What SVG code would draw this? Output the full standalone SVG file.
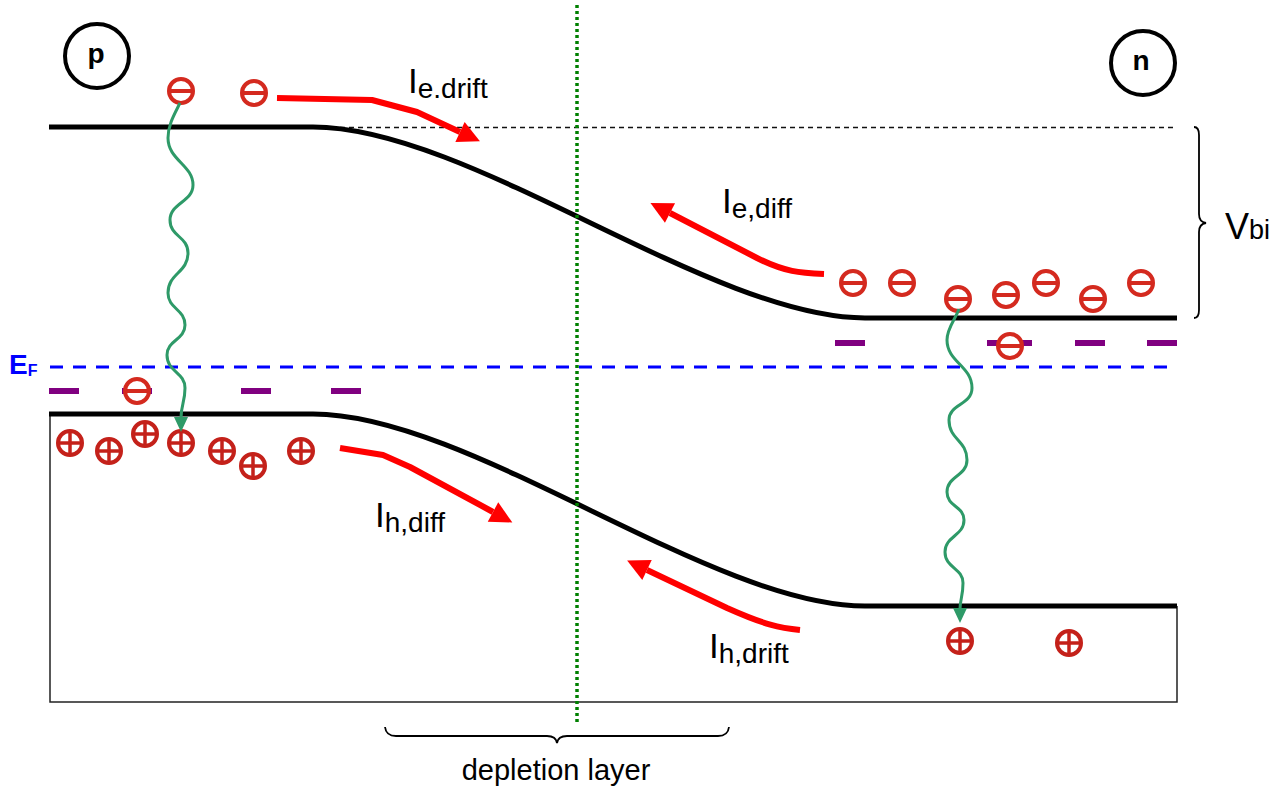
<svg xmlns="http://www.w3.org/2000/svg" xmlns:xlink="http://www.w3.org/1999/xlink" width="1288" height="789" viewBox="0 0 1288 789">
<style>
.band{fill:none;stroke:#000;stroke-width:5}
.thin{fill:none;stroke:#222;stroke-width:1.5}
.ef{fill:none;stroke:#0000ff;stroke-width:3;stroke-dasharray:13 10}
.lvl{stroke:#800080;stroke-width:6}
.cur{fill:none;stroke:#ff0000;stroke-width:6;stroke-linejoin:round}
.wave{fill:none;stroke:#2e9a68;stroke-width:3}
.lbl{font-family:"Liberation Sans",Arial,sans-serif;fill:#000}
.brace{fill:none;stroke:#000;stroke-width:1.8}
</style>
<defs>
<marker id="ra" markerUnits="userSpaceOnUse" markerWidth="24" markerHeight="24" refX="0" refY="11" orient="auto" overflow="visible">
<path d="M0,0 L22,11 L0,22 z" fill="#ff0000"/>
</marker>
<g id="el"><circle r="12" fill="#fff" stroke="#d42a1f" stroke-width="4"/><line x1="-12" y1="0" x2="12" y2="0" stroke="#d42a1f" stroke-width="4"/></g>
<g id="ho"><circle r="12" fill="#fff" stroke="#c4211a" stroke-width="4"/><line x1="-12" y1="0" x2="12" y2="0" stroke="#c4211a" stroke-width="3.5"/><line x1="0" y1="-12" x2="0" y2="12" stroke="#c4211a" stroke-width="3.5"/></g>
</defs>
<rect width="1288" height="789" fill="#fff"/>

<g id="box">
<path class="thin" d="M50,414 L50,702 L1177,702 L1177,606"/>
<path d="M313,127.5 L1177,127.5" fill="none" stroke="#111" stroke-width="1.3" stroke-dasharray="5 4"/>
</g>

<g id="bands">
<path class="band" d="M49,127 L313,127 C470,127 710,318 865,318 L1177,318"/>
<path class="band" d="M49,414 L313,414 C470,414 710,606 865,606 L1177,606"/>
</g>

<g id="fermi">
<path class="ef" d="M50,367 L1177,367"/>
<text class="lbl" x="9" y="374" font-size="28" font-weight="bold" style="fill:#0000ff">E<tspan font-size="16" dy="2">F</tspan></text>
</g>

<g id="levels">
<line class="lvl" x1="49" y1="391" x2="79" y2="391"/>
<line class="lvl" x1="122" y1="391" x2="152" y2="391"/>
<line class="lvl" x1="241" y1="391" x2="271" y2="391"/>
<line class="lvl" x1="331" y1="391" x2="361" y2="391"/>
<line class="lvl" x1="835" y1="343" x2="865" y2="343"/>
<line class="lvl" x1="987" y1="343" x2="1032" y2="343"/>
<line class="lvl" x1="1075" y1="343" x2="1105" y2="343"/>
<line class="lvl" x1="1147" y1="343" x2="1177" y2="343"/>
</g>

<g id="depletion-center">
<line x1="577" y1="5" x2="577" y2="722" stroke="#008000" stroke-width="3.5" stroke-dasharray="3 3"/>
</g>

<g id="electrons">
<use xlink:href="#el" href="#el" x="181" y="91"/>
<use xlink:href="#el" href="#el" x="254" y="93"/>
<use xlink:href="#el" href="#el" x="137" y="391"/>
<use xlink:href="#el" href="#el" x="853" y="283"/>
<use xlink:href="#el" href="#el" x="902" y="283"/>
<use xlink:href="#el" href="#el" x="958" y="299"/>
<use xlink:href="#el" href="#el" x="1006" y="295"/>
<use xlink:href="#el" href="#el" x="1046" y="283"/>
<use xlink:href="#el" href="#el" x="1093" y="299"/>
<use xlink:href="#el" href="#el" x="1141" y="283"/>
<use xlink:href="#el" href="#el" x="1010" y="346"/>
</g>

<g id="holes">
<use xlink:href="#ho" href="#ho" x="70" y="443"/>
<use xlink:href="#ho" href="#ho" x="109" y="451"/>
<use xlink:href="#ho" href="#ho" x="145" y="434"/>
<use xlink:href="#ho" href="#ho" x="181" y="443"/>
<use xlink:href="#ho" href="#ho" x="222" y="451"/>
<use xlink:href="#ho" href="#ho" x="253" y="466"/>
<use xlink:href="#ho" href="#ho" x="301" y="451"/>
<use xlink:href="#ho" href="#ho" x="960" y="641"/>
<use xlink:href="#ho" href="#ho" x="1069" y="643"/>
</g>

<g id="connectors">
<path class="wave" d="M180,103 C174,115 168,125 168,138 C168,160 193,165 193,185 C193,202 170,203 170,220 C170,237 188,236 188,253 C188,273 168,273 168,293 C168,309 185,309 185,325 C185,340 167,340 167,355 C167,372 185,372 185,388 C185,402 181,405 181,418"/>
<path d="M174,417 L188,417 L181,432 z" fill="#2e9a68"/>
<path class="wave" d="M959,309 C955,320 947,328 947,340 C947,362 972,366 972,388 C972,405 949,404 949,420 C949,440 967,440 967,460 C967,476 947,476 947,492 C947,507 964,506 964,520 C964,536 945,536 945,552 C945,568 963,568 963,583 C963,596 960,600 960,609"/>
<path d="M953,608 L967,608 L960,623 z" fill="#2e9a68"/>

<path class="cur" marker-end="url(#ra)" d="M277,98 L372,100 L417,112 L460,132"/>
<path class="cur" marker-end="url(#ra)" d="M824,274 C800,273 785,272 757,258 L670,213"/>
<path class="cur" marker-end="url(#ra)" d="M340,448 L383,455 L410,467 L493,512"/>
<path class="cur" marker-end="url(#ra)" d="M800,630 C780,628 765,625 727,608 L647,570"/>
</g>

<g id="labels">
<text class="lbl" x="408" y="93" font-size="35">I<tspan font-size="28" dy="5">e.drift</tspan></text>
<text class="lbl" x="722" y="213" font-size="35">I<tspan font-size="28" dy="5">e,diff</tspan></text>
<text class="lbl" x="375" y="527" font-size="35">I<tspan font-size="28" dy="5">h,diff</tspan></text>
<text class="lbl" x="709" y="658" font-size="35">I<tspan font-size="28" dy="5">h,drift</tspan></text>
<text class="lbl" x="1225" y="239" font-size="36">V<tspan font-size="27">bi</tspan></text>
<text class="lbl" x="556" y="780" font-size="29" text-anchor="middle">depletion layer</text>
</g>

<g id="vbi-brace">
<path class="brace" d="M1194,127 Q1199,127 1199,135 L1199,214 Q1199,222 1206,223 Q1199,224 1199,232 L1199,310 Q1199,318 1194,318"/>
</g>
<g id="depletion-brace">
<path class="brace" d="M385,727 Q386,736 396,736 L547,736 Q556,736 557,743 Q558,736 567,736 L718,736 Q728,736 729,727"/>
</g>

<g id="p-region">
<circle cx="97" cy="56" r="32" fill="none" stroke="#000" stroke-width="4"/>
<text class="lbl" x="96" y="63" font-size="28" font-weight="bold" text-anchor="middle">p</text>
</g>
<g id="n-region">
<circle cx="1143" cy="63" r="32" fill="none" stroke="#000" stroke-width="4"/>
<text class="lbl" x="1141" y="70" font-size="28" font-weight="bold" text-anchor="middle">n</text>
</g>
</svg>
